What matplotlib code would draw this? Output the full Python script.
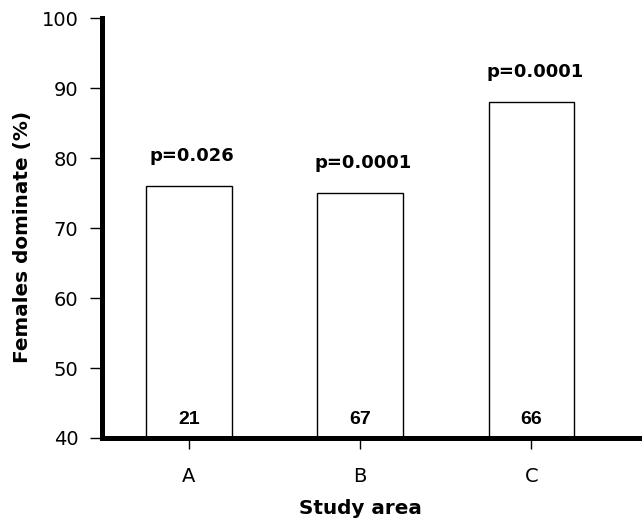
import matplotlib
matplotlib.use("Agg")
import matplotlib.pyplot as plt

categories = ["A", "B", "C"]
values = [76, 75, 88]
p_labels = ["p=0.026", "p=0.0001", "p=0.0001"]
n_labels = ["21", "67", "66"]
yticks = [40, 50, 60, 70, 80, 90, 100]

plt.rcParams['font.family'] = ['DejaVu Sans']

fig = plt.figure(figsize=(6.42, 5.22), dpi=100)
ax = fig.add_axes([0.159, 0.161, 0.841, 0.804])

x = list(range(len(categories)))
ax.bar(x, [v - 40 for v in values], bottom=40, width=0.5,
       facecolor='white', edgecolor='black', linewidth=1.0, zorder=2)

for xi, v, p, n in zip(x, values, p_labels, n_labels):
    ax.text(xi + 0.02, v + 3.6, p, ha='center', va='baseline', fontsize=13,
            fontweight='bold')
    ax.text(xi, 42.0, n, ha='center', va='baseline', fontsize=14,
            fontweight='bold', family='Liberation Sans')

ax.set_ylim(40, 100)
ax.set_xlim(-0.506, 2.645)
ax.set_yticks(yticks)
ax.set_xticks(x)
ax.set_xticklabels(categories)

for s in ['top', 'right']:
    ax.spines[s].set_visible(False)
ax.spines['left'].set_linewidth(3.6)
ax.spines['bottom'].set_linewidth(3.6)
ax.tick_params(axis='y', direction='out', length=9, width=1,
               labelsize=14, pad=8)
ax.tick_params(axis='x', direction='out', length=8, width=1,
               labelsize=14, pad=13)

ax.set_ylabel("Females dominate (%)", fontsize=14.4, fontweight='bold')
ax.yaxis.set_label_coords(-0.13, 0.48)
ax.set_xlabel("Study area", fontsize=14.4, fontweight='bold')
ax.xaxis.set_label_coords(0.478, -0.145)

fig.savefig("out.png", dpi=100)
